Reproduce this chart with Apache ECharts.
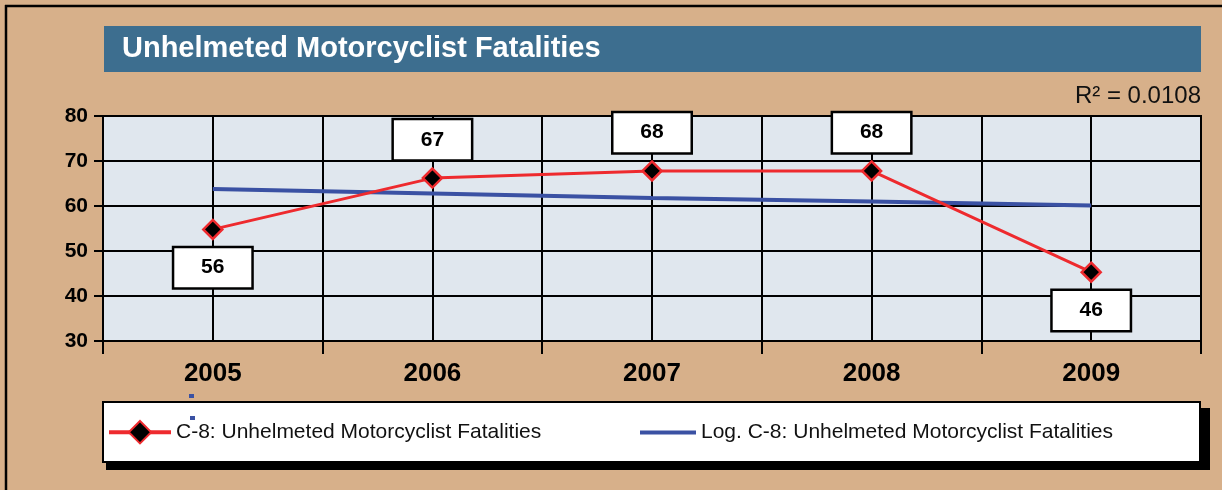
<!DOCTYPE html>
<html>
<head>
<meta charset="utf-8">
<script src="https://cdn.jsdelivr.net/npm/echarts@6/dist/echarts.min.js"></script>
<style>
  html, body { margin: 0; padding: 0; background: #D7B08A; }
  #main { width: 1222px; height: 490px; }
</style>
</head>
<body>
<div id="main"></div>
<script>
var myChart = echarts.init(document.getElementById('main'));

// values
var years = ['2005', '2006', '2007', '2008', '2009'];
var fatalityPoints = [54.8, 66.2, 67.8, 67.8, 45.3];   // where the markers are drawn
var fatalityLabels = [56, 67, 68, 68, 46];             // numbers printed in the boxes
var trendValues = [63.8, 62.8, 61.8, 61.0, 60.1];      // log trend line
var yTicks = [30, 40, 50, 60, 70, 80];
var rSquared = '0.0108';

var seriesName = 'C-8: Unhelmeted Motorcyclist Fatalities';
var trendName = 'Log. C-8: Unhelmeted Motorcyclist Fatalities';

var red = '#EE2A2E';
var blue = '#3A51A3';
var font = '"Liberation Sans", Arial, sans-serif';

// label goes under the point when the point sits below the trend line
var pointData = fatalityPoints.map(function (v, i) {
  return {
    value: v,
    label: { position: v < trendValues[i] ? 'bottom' : 'top' }
  };
});

var option = {
  backgroundColor: '#D7B08A',
  textStyle: { fontFamily: font },
  animation: false,
  grid: {
    left: 103, right: 21, top: 116, height: 225,
    show: true,
    backgroundColor: '#E0E7EE',
    borderColor: '#000',
    borderWidth: 2
  },
  legend: [{
    data: [seriesName],
    left: 107, top: 420,
    padding: 0,
    itemWidth: 62, itemHeight: 28,
    lineStyle: { width: 4 },
    textStyle: { fontSize: 21, color: '#111', fontFamily: font }
  }, {
    data: [{ name: trendName, icon: 'rect' }],
    left: 640, top: 422,
    padding: 0,
    itemWidth: 56, itemHeight: 4,
    textStyle: { fontSize: 21, color: '#111', fontFamily: font }
  }],
  xAxis: [{
    type: 'category',
    data: years,
    boundaryGap: true,
    axisLine: { lineStyle: { color: '#000', width: 2 } },
    axisTick: { show: true, length: 13, lineStyle: { color: '#000', width: 2 } },
    axisLabel: { margin: 20, fontSize: 26, fontWeight: 'bold', color: '#000' },
    splitLine: { show: false }
  }, {
    type: 'value',
    min: 0, max: 10, interval: 1,
    position: 'bottom',
    axisLine: { show: false },
    axisTick: { show: false },
    axisLabel: { show: false },
    splitLine: { show: true, lineStyle: { color: '#000', width: 2 } }
  }],
  yAxis: {
    type: 'value',
    min: yTicks[0],
    max: yTicks[yTicks.length - 1],
    interval: yTicks[1] - yTicks[0],
    axisLine: { show: true, lineStyle: { color: '#000', width: 2 } },
    axisTick: { show: true, length: 9, lineStyle: { color: '#000', width: 2 } },
    axisLabel: { margin: 15, fontSize: 21, fontWeight: 'bold', color: '#000' },
    splitLine: { lineStyle: { color: '#000', width: 2 } }
  },
  series: [{
    name: seriesName,
    type: 'line',
    z: 4,
    data: pointData,
    symbol: 'diamond',
    symbolSize: 19,
    lineStyle: { color: red, width: 3 },
    itemStyle: { color: '#000', borderColor: red, borderWidth: 2.5 },
    label: {
      show: true,
      distance: 8,
      formatter: function (p) { return fatalityLabels[p.dataIndex]; },
      backgroundColor: '#fff',
      borderColor: '#000',
      borderWidth: 2.5,
      width: 77,
      height: 39,
      lineHeight: 39,
      align: 'center',
      fontSize: 21,
      fontWeight: 'bold',
      color: '#000'
    }
  }, {
    name: trendName,
    type: 'line',
    z: 3,
    data: trendValues,
    symbol: 'none',
    lineStyle: { color: blue, width: 4 },
    itemStyle: { color: blue }
  }],
  graphic: [
    { type: 'line', z: 0, shape: { x1: 5, y1: 6, x2: 1222, y2: 6 }, style: { stroke: '#000', lineWidth: 2.5 } },
    { type: 'line', z: 0, shape: { x1: 6, y1: 5, x2: 6, y2: 490 }, style: { stroke: '#000', lineWidth: 2.5 } },
    { type: 'rect', z: 0, shape: { x: 104, y: 26, width: 1097, height: 46 }, style: { fill: '#3D6E8F' } },
    { type: 'text', z: 1, x: 122, y: 49, style: {
        text: 'Unhelmeted Motorcyclist Fatalities', fill: '#fff',
        font: 'bold 29px ' + font, textVerticalAlign: 'middle'
    } },
    { type: 'text', z: 1, x: 1201, y: 96, style: {
        text: 'R\u00B2 = ' + rSquared, fill: '#111',
        font: '24px ' + font, textAlign: 'right', textVerticalAlign: 'middle'
    } },
    { type: 'rect', z: 0, shape: { x: 106, y: 408, width: 1104, height: 62 }, style: { fill: '#000' } },
    { type: 'rect', z: 0, shape: { x: 103, y: 402, width: 1097, height: 60 }, style: { fill: '#fff', stroke: '#000', lineWidth: 2 } },
    { type: 'rect', z: 1, shape: { x: 189, y: 394, width: 5, height: 4 }, style: { fill: '#3A51A3' } },
    { type: 'rect', z: 1, shape: { x: 190, y: 416, width: 5, height: 4 }, style: { fill: '#3A51A3' } }
  ]
};
myChart.setOption(option);
</script>
</body>
</html>
